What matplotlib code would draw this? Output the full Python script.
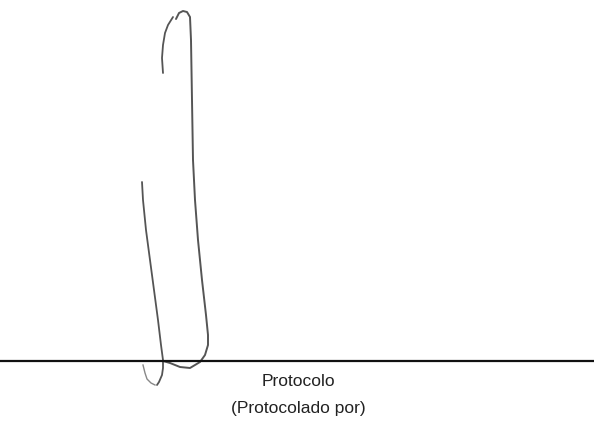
import matplotlib.pyplot as plt

# signature traced in image pixels (x, y with y downward)
sig_a_x = [173, 168, 165, 163, 162, 163]
sig_a_y = [17, 25, 33, 45, 58, 73]

sig_b_x = [176, 179, 183, 187, 190, 191, 192, 193, 195, 198, 202, 206, 208, 208, 205, 200, 190, 180, 170, 163]
sig_b_y = [19, 13, 11, 12, 17, 40, 100, 160, 200, 240, 280, 315, 335, 345, 355, 362, 368, 367, 363, 361]

sig_c_x = [142, 143, 146, 150, 154, 158, 161, 163, 163, 162, 159, 157]
sig_c_y = [182, 200, 230, 260, 290, 320, 345, 360, 368, 375, 382, 385]

sig_d_x = [155, 151, 147, 145, 143]
sig_d_y = [385, 383, 379, 373, 365]

line_y = 361
labels = ['Protocolo', '(Protocolado por)']
label_y = [382, 409]

fig = plt.figure(figsize=(5.94, 4.28), dpi=100)
ax = fig.add_axes([0, 0, 1, 1])
ax.set_xlim(0, 594)
ax.set_ylim(428, 0)
ax.axis('off')

ink = '#555555'
ax.plot(sig_a_x, sig_a_y, color=ink, lw=1.3, solid_capstyle='round')
ax.plot(sig_b_x, sig_b_y, color=ink, lw=1.4, solid_capstyle='round')
ax.plot(sig_c_x, sig_c_y, color=ink, lw=1.3, solid_capstyle='round')
ax.plot(sig_d_x, sig_d_y, color='#888888', lw=1.0)

ax.plot([0, 594], [line_y, line_y], color='#111111', lw=1.6)

for txt, y in zip(labels, label_y):
    ax.text(298, y, txt, ha='center', va='center', fontsize=12.5,
            family='Liberation Sans', color='#222222')

fig.savefig('out.png', dpi=100, facecolor='white')
